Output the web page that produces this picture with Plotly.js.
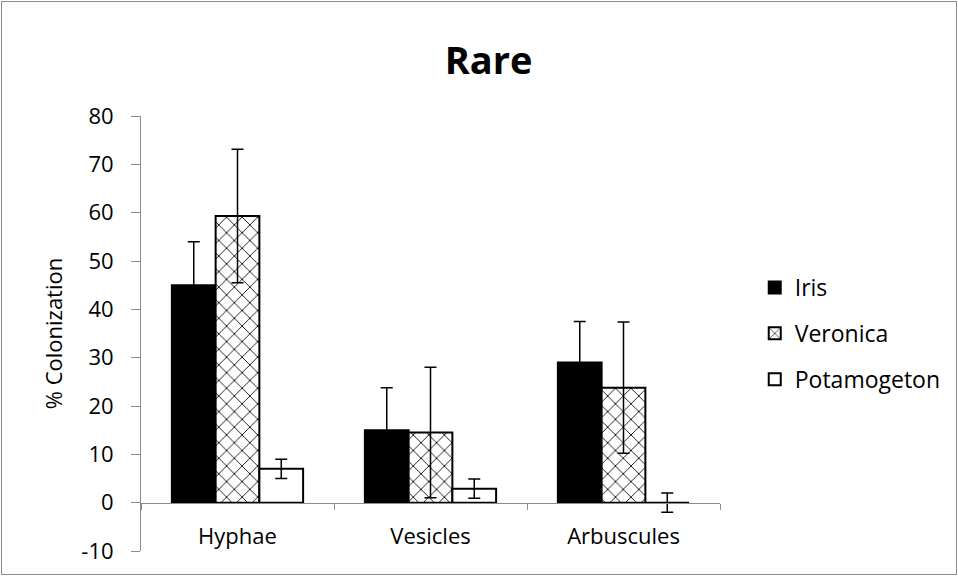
<!DOCTYPE html>
<html><head><meta charset="utf-8">
<script src="https://cdn.plot.ly/plotly-3.0.1.min.js"></script>
<style>body{margin:0;background:#fff}#wrap{position:relative;width:958px;height:576px}#chart{width:958px;height:576px}#frame{position:absolute;left:1px;top:1px;width:954px;height:572px;border:1px solid #8c8c8c;pointer-events:none}</style>
</head><body>
<div id="wrap"><div id="chart"></div><div id="frame"></div></div>
<script>
const categories = ["Hyphae", "Vesicles", "Arbuscules"];
const iris = [45, 15, 29];
const irisErr = [9, 8.8, 8.5];
const veronica = [59.3, 14.5, 23.8];
const veronicaErr = [13.8, 13.5, 13.6];
const potamogeton = [7, 2.9, 0];
const potamogetonErr = [2, 2, 2];
const yTicks = [-10, 0, 10, 20, 30, 40, 50, 60, 70, 80];

const font = "'Open Sans', sans-serif";
function err(a){return {type:'data', array:a, visible:true, color:'#000', thickness:1.5, width:6};}
const traces = [
  {type:'bar', name:'Iris', legendgroup:'a', x:categories, y:iris, error_y:err(irisErr),
   marker:{color:'#000', line:{color:'#000', width:2}}},
  {type:'bar', name:'Veronica', legendgroup:'b', x:categories, y:veronica, error_y:err(veronicaErr),
   marker:{color:'#fff', line:{color:'#000', width:2},
     pattern:{shape:'x', fgcolor:'#000', bgcolor:'#fff', size:11, solidity:0.15}}},
  {type:'bar', name:'Potamogeton', legendgroup:'c', x:categories, y:potamogeton, error_y:err(potamogetonErr),
   marker:{color:'#fff', line:{color:'#000', width:2}}}
];
const layout = {
  width:958, height:576,
  margin:{l:141, r:238, t:116, b:25},
  paper_bgcolor:'#fff', plot_bgcolor:'#fff',
  title:{text:'<b>Rare</b>', x:0.51, xanchor:'center', y:0.895, yanchor:'middle',
    font:{family:font, size:38, color:'#000'}},
  barmode:'group', bargap:0.32, bargroupgap:0,
  showlegend:true,
  legend:{x:1.06, xanchor:'left', y:0.5, yanchor:'middle', tracegroupgap:13,
    itemwidth:30, font:{family:font, size:23, color:'#000'}},
  xaxis:{type:'category', anchor:'free', position:10/90, showline:true, linecolor:'#8c8c8c', linewidth:1,
    ticks:'outside', tickson:'boundaries', ticklen:6, tickcolor:'#8c8c8c',
    ticklabelstandoff:14, tickfont:{family:font, size:22, color:'#000'}, showgrid:false, zeroline:false},
  yaxis:{range:[-10,80], tickvals:yTicks, ticktext:yTicks.map(String), showline:true,
    linecolor:'#8c8c8c', linewidth:1, ticks:'outside', ticklen:9, tickcolor:'#8c8c8c',
    ticklabelstandoff:13, tickfont:{family:font, size:22, color:'#000'}, showgrid:false, zeroline:false,
    title:{text:'% Colonization', standoff:12, font:{family:font, size:22, color:'#000'}}}
};
Plotly.newPlot('chart', traces, layout, {displayModeBar:false, staticPlot:true});
</script>
</body></html>
